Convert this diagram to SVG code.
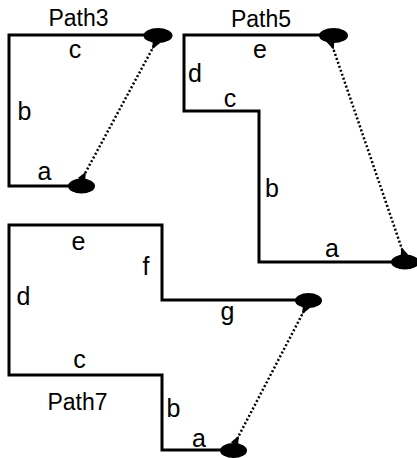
<svg xmlns="http://www.w3.org/2000/svg" width="417" height="458" viewBox="0 0 417 458">
<style>
.p{fill:none;stroke:#000;stroke-width:3;stroke-linejoin:miter}
.e{fill:#000}
.d{fill:none;stroke:#000;stroke-width:2.5;stroke-dasharray:2 2.2}
text{font-family:"Liberation Sans",Arial,sans-serif;font-size:25px;fill:#000;text-anchor:middle}
text.t{font-size:23px}
</style>
<defs>
<marker id="sp" markerUnits="userSpaceOnUse" markerWidth="14" markerHeight="14" viewBox="-10 -5 12 10" refX="0" refY="0" orient="auto-start-reverse">
<path d="M1,-3.5 L-7,0 L1,3.5 z" fill="#000"/>
</marker>
</defs>
<g id="path3">
<path class="p" d="M146,35 H9 V186 H70"/>
<ellipse class="e" cx="158" cy="35.5" rx="14.5" ry="7.5"/>
<ellipse class="e" cx="81.5" cy="186" rx="13.5" ry="7.5"/>
<text class="t" x="78.5" y="26">Path3</text>
<text x="75" y="58">c</text>
<text x="24.5" y="120">b</text>
<text x="44.5" y="180">a</text>
</g>
<g id="path5">
<path class="p" d="M320,35 H184 V111 H259 V262 H394"/>
<ellipse class="e" cx="333.5" cy="35.5" rx="14.5" ry="7.5"/>
<ellipse class="e" cx="405" cy="262" rx="14" ry="7.5"/>
<text class="t" x="261" y="27">Path5</text>
<text x="260" y="58">e</text>
<text x="195" y="82">d</text>
<text x="230" y="107">c</text>
<text x="272" y="197">b</text>
<text x="332" y="257">a</text>
</g>
<g id="path7">
<path class="p" d="M296,300 H162 V225 H9 V375 H162 V450 H222"/>
<ellipse class="e" cx="308.5" cy="300.5" rx="13.5" ry="7.5"/>
<ellipse class="e" cx="233.5" cy="450.5" rx="13.5" ry="7.5"/>
<text class="t" x="77.5" y="410">Path7</text>
<text x="78.5" y="250">e</text>
<text x="146" y="275">f</text>
<text x="23.5" y="305">d</text>
<text x="227.5" y="320">g</text>
<text x="79.5" y="368">c</text>
<text x="173.5" y="417">b</text>
<text x="199" y="447">a</text>
</g>
<g id="connectors">
<line class="d" x1="156" y1="42" x2="82" y2="179" marker-start="url(#sp)" marker-end="url(#sp)"/>
<line class="d" x1="331" y1="42" x2="404" y2="255" marker-start="url(#sp)" marker-end="url(#sp)"/>
<line class="d" x1="306" y1="307" x2="235" y2="443" marker-start="url(#sp)" marker-end="url(#sp)"/>
</g>
</svg>
